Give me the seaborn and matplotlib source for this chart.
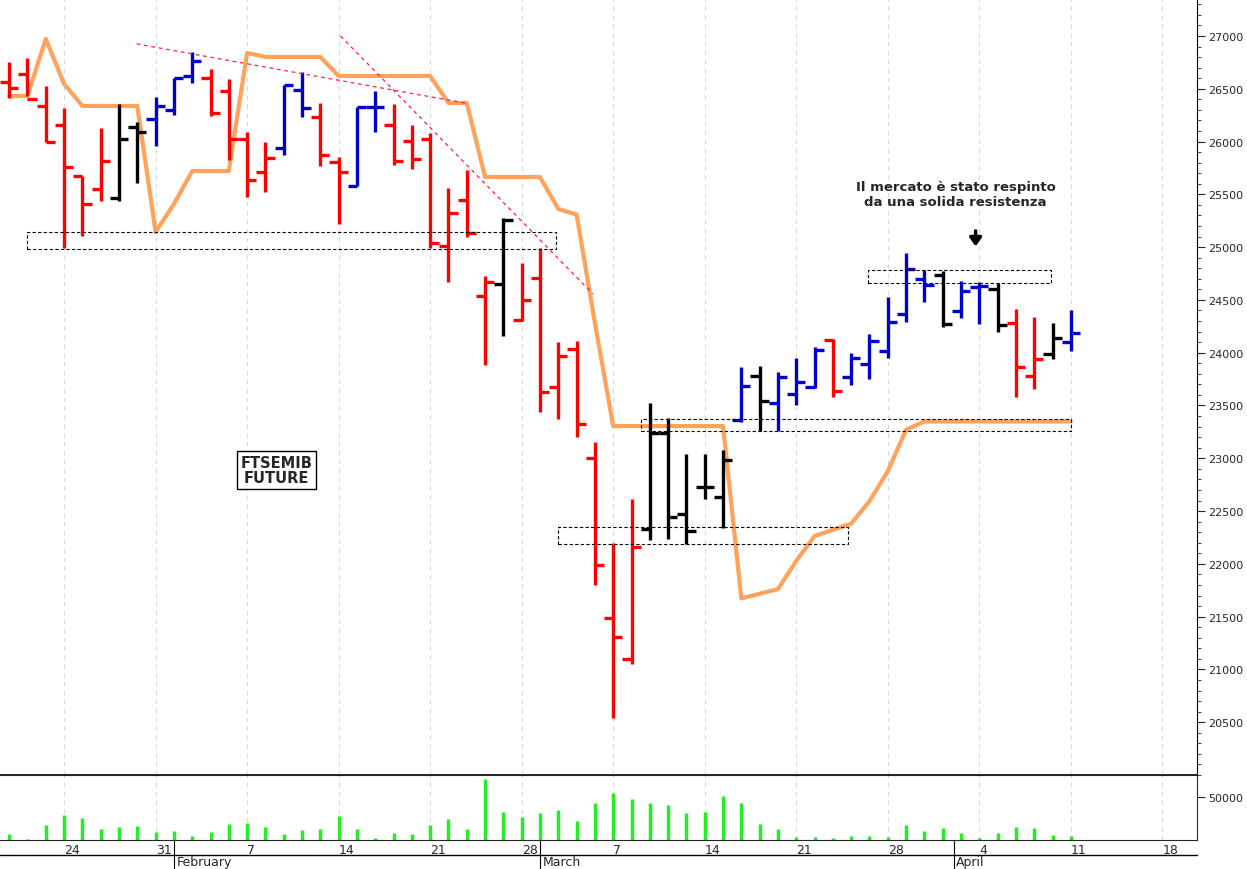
import numpy as np
import pandas as pd
import seaborn as sns
import matplotlib.pyplot as plt
from matplotlib.patches import Rectangle

# dati giornalieri (indice = giorno di borsa, dal 19 gennaio all'11 aprile)
apertura = [26564, 26640, 26337, 26157, 25673, 25550, 25465, 26138, 26214, 26299,
            26621, 26602, 26479, 26024, 25711, 25939, 26488, 26233, 25806, 25579,
            26327, 26157, 26003, 26022, 25013, 25445, 24540, 24651, 24311, 24710,
            23676, 24034, 23000, 21485, 21097, 22327, 23240, 22472, 22730, 22638,
            23365, 23780, 23522, 23607, 23679, 24119, 23767, 23890, 24019, 24371,
            24695, 24739, 24393, 24623, 24607, 24286, 23783, 23984, 24097]
massimo = [26754, 26792, 26526, 26318, 25673, 26128, 26356, 26185, 26422, 26602,
           26848, 26687, 26593, 26090, 25996, 26536, 26659, 26365, 25853, 26327,
           26479, 26356, 26158, 26084, 25556, 25726, 24725, 25279, 24847, 24987,
           24101, 24115, 23159, 22198, 22619, 23528, 23377, 23037, 23037, 23081,
           23868, 23874, 23814, 23953, 24050, 24126, 23994, 24176, 24528, 24943,
           24786, 24774, 24679, 24670, 24664, 24412, 24340, 24286, 24403]
minimo = [26413, 26432, 25996, 24991, 25105, 25437, 25437, 25607, 25958, 26251,
          26555, 26242, 25825, 25474, 25522, 25872, 26233, 25768, 25219, 25579,
          26090, 25778, 25741, 24987, 24670, 25098, 23879, 24156, 24300, 23443,
          23369, 23203, 21799, 20543, 21049, 22224, 22231, 22187, 22612, 22342,
          23343, 23255, 23255, 23500, 23670, 23585, 23695, 23752, 23953, 24292,
          24481, 24239, 24333, 24270, 24192, 23585, 23654, 23937, 24019]
chiusura = [26507, 26403, 25996, 25759, 25408, 25816, 26024, 26090, 26337, 26602,
            26763, 26270, 26024, 25636, 25844, 26536, 26318, 25872, 25711, 26327,
            26327, 25816, 25837, 25039, 25327, 25131, 24669, 25253, 24496, 23628,
            23968, 23325, 21991, 21308, 22157, 23240, 22446, 22309, 22730, 22981,
            23689, 23538, 23767, 23720, 24025, 23641, 23947, 24113, 24292, 24796,
            24645, 24270, 24585, 24632, 24267, 23868, 23940, 24135, 24182]
colore = (['r'] * 6 + ['k'] * 2 + ['b'] * 3 + ['r'] * 4 + ['b'] * 2 + ['r'] * 2 +
          ['b'] * 2 + ['r'] * 6 + ['k'] + ['r'] * 7 + ['k'] * 5 + ['b', 'k'] +
          ['b'] * 3 + ['r'] + ['b'] * 5 + ['k'] + ['b'] * 2 + ['k', 'r', 'r', 'k', 'b'])
linea_arancio = [26431, 26431, 26972, 26545, 26337, 26337, 26337, 26337, 25143, 25408,
                 25721, 25721, 25721, 26839, 26801, 26801, 26801, 26801, 26621, 26621,
                 26621, 26621, 26621, 26621, 26365, 26365, 25664, 25664, 25664, 25664,
                 25361, 25309, 24281, 23305, 23305, 23305, 23305, 23305, 23305, 23305,
                 21673, 21717, 21761, 22028, 22264, 22322, 22380, 22594, 22877, 23270,
                 23349, 23349, 23349, 23349, 23349, 23349, 23349, 23349, 23349]
volume = [7540, 1200, 17070, 28980, 25400, 13100, 15480, 15880, 9530, 9930,
          5160, 9530, 18260, 19850, 15480, 7540, 11910, 13100, 27790, 12310,
          2380, 8340, 7540, 17070, 24220, 12310, 71060, 32550, 26600, 31760,
          34540, 21840, 42880, 55180, 47240, 43270, 40490, 31360, 32550, 51610,
          42880, 19060, 13100, 3570, 3970, 2780, 5160, 4370, 3570, 17070,
          9930, 13900, 8340, 2780, 8730, 15480, 14290, 6350, 4760]
tick_pos = [3, 8, 13, 18, 23, 28, 33, 38, 43, 48, 53, 58, 63]
tick_lbl = ['24', '31', '7', '14', '21', '28', '7', '14', '21', '28', '4', '11', '18']
mesi = [(9, 'February'), (29, 'March'), (51.6, 'April')]

col_map = {'r': '#ff0000', 'b': '#0000cc', 'k': '#000000'}
idx = np.arange(len(chiusura))
XMIN, XMAX = -0.5, 64.9
AX_W = 0.96

sns.set_style('white')
fig = plt.figure(figsize=(12.47, 8.70), dpi=100)
ax = fig.add_axes([0, 0.108, AX_W, 0.892])
axv = fig.add_axes([0, 0.0333, AX_W, 0.0747], sharex=ax)

for a in (ax, axv):
    for x in tick_pos:
        a.axvline(x, color='#d8d8d8', lw=0.8, ls=(0, (4, 4)), zorder=0)

# linea arancione
sns.lineplot(x=idx, y=linea_arancio, ax=ax, color='#ffa35c', lw=3, zorder=2)

# barre OHLC
for i in idx:
    c = col_map[colore[i]]
    ax.vlines(i, minimo[i], massimo[i], color=c, lw=2.4, zorder=3)
    ax.hlines(apertura[i], i - 0.5, i, color=c, lw=2.4, zorder=3)
    ax.hlines(chiusura[i], i, i + 0.5, color=c, lw=2.4, zorder=3)

# rettangoli tratteggiati
for x0, x1, y0, y1 in [(0.96, 29.9, 24982, 25143), (30.0, 45.8, 22187, 22348),
                       (34.5, 58.0, 23257, 23375), (46.9, 56.9, 24660, 24786)]:
    ax.add_patch(Rectangle((x0, y0), x1 - x0, y1 - y0, fill=False, ec='black',
                           lw=0.8, ls=(0, (3, 2)), zorder=4))

# linee di tendenza
ax.plot([6.96, 24.9], [26925, 26365], color='#ff2040', lw=0.9, ls=(0, (3, 3)), zorder=4)
ax.plot([18.1, 31.9], [27000, 24555], color='#ff2040', lw=0.9, ls=(0, (3, 3)), zorder=4)

ax.text(14.6, 22888, 'FTSEMIB\nFUTURE', ha='center', va='center', fontsize=10.5,
        fontweight='bold', linespacing=1.0,
        bbox=dict(boxstyle='square,pad=0.25', fc='white', ec='black', lw=1))
ax.text(51.7, 25500, 'Il mercato è stato respinto\nda una solida resistenza',
        ha='center', va='center', fontsize=9.5, fontweight='bold')
ax.annotate('', xy=(52.8, 24980), xytext=(52.8, 25180),
            arrowprops=dict(arrowstyle='-|>,head_width=0.35,head_length=0.5',
                            color='black', lw=2.5))

ax.set_xlim(XMIN, XMAX)
ax.set_ylim(20000, 27350)
ax.yaxis.tick_right()
ax.set_yticks(np.arange(20500, 27001, 500))
ax.set_yticks(np.arange(20000, 27350, 100), minor=True)
ax.tick_params(axis='y', which='major', length=6, labelsize=8, pad=2, direction='out')
ax.tick_params(axis='y', which='minor', length=3, direction='out')
ax.tick_params(axis='x', bottom=False, labelbottom=False)
for s in ['left', 'top']:
    ax.spines[s].set_visible(False)
ax.spines['right'].set_color('black')
ax.spines['bottom'].set_color('black')
ax.spines['bottom'].set_linewidth(1.2)

# volume
axv.vlines(idx, 0, volume, color='#22ee22', lw=2.5)
axv.set_ylim(0, 75600)
axv.yaxis.tick_right()
axv.set_yticks([50000])
axv.tick_params(axis='y', length=6, labelsize=8, pad=2)
axv.spines['left'].set_visible(False)
axv.set_xticks(tick_pos)
axv.set_xticklabels(tick_lbl, ha='left', fontsize=9)
axv.tick_params(axis='x', length=14, direction='out', pad=-12)

# righe mesi
fig.add_artist(plt.Line2D([0, AX_W], [0.016, 0.016], color='black', lw=1))
for pos, nome in mesi:
    xf = (pos - XMIN) / (XMAX - XMIN) * AX_W
    fig.add_artist(plt.Line2D([xf, xf], [0.0, 0.033], color='black', lw=0.8))
    fig.text(xf + 0.002, 0.001, nome, fontsize=9, ha='left', va='bottom')

fig.savefig('out.png', dpi=100)
